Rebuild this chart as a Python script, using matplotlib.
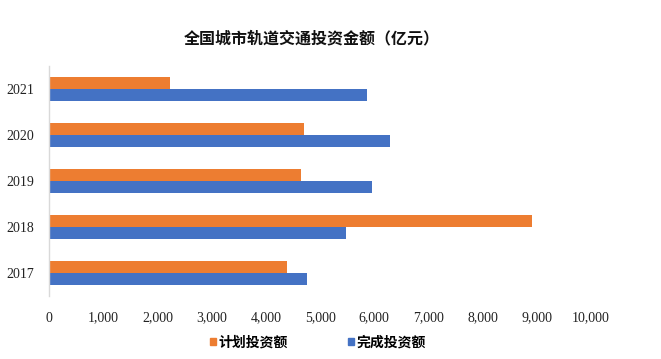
import numpy as np
import matplotlib
matplotlib.use("Agg")
import matplotlib.pyplot as plt
from matplotlib.patches import Patch
from matplotlib.ticker import FuncFormatter

years = ["2017", "2018", "2019", "2020", "2021"]
planned = [4380, 8920, 4650, 4710, 2230]     # 计划投资额
completed = [4760, 5470, 5960, 6290, 5870]   # 完成投资额

orange = "#ED7D31"
blue = "#4472C4"
cjk = ["Noto Sans CJK SC", "DejaVu Sans"]

fig = plt.figure(figsize=(6.61, 3.59), dpi=100)
ax = fig.add_axes([0.0746, 0.1747, 0.8194, 0.6406])

y = np.arange(len(years))
h = 0.26
ax.barh(y + h / 2, planned, height=h, color=orange, label="计划投资额")
ax.barh(y - h / 2, completed, height=h, color=blue, label="完成投资额")

ax.set_xlim(0, 10000)
ax.set_ylim(-0.5, len(years) - 0.5)
ax.set_xticks(np.arange(0, 10001, 1000))
ax.xaxis.set_major_formatter(FuncFormatter(lambda v, p: f"{int(v):,}"))
ax.set_yticks(y)
ax.set_yticklabels(years)

for lab in ax.get_xticklabels() + ax.get_yticklabels():
    lab.set_fontfamily("Liberation Serif")
    lab.set_fontsize(10)
    lab.set_color("#222222")
ax.tick_params(axis="both", length=0)
ax.tick_params(axis="x", pad=11)
ax.tick_params(axis="y", pad=11)

for s in ["top", "right", "bottom"]:
    ax.spines[s].set_visible(False)
ax.spines["left"].set_color("#D9D9D9")
ax.spines["left"].set_linewidth(1)

fig.text(0.472, 0.894, "全国城市轨道交通投资金额（亿元）", ha="center", va="center",
         fontsize=11.5, fontweight="bold", family=cjk, color="#111111")

handles = [Patch(color=orange, label="计划投资额"), Patch(color=blue, label="完成投资额")]
fig.legend(handles=handles, loc="center", bbox_to_anchor=(0.481, 0.045), ncol=2,
           frameon=False, handlelength=0.4, handleheight=0.4, handletextpad=0.15,
           columnspacing=4.4, prop={"family": cjk, "weight": "bold", "size": 10})

fig.savefig("out.png", dpi=100)
